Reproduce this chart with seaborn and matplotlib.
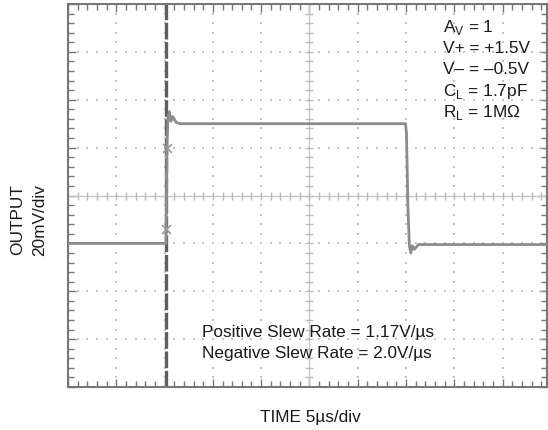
import numpy as np
import matplotlib
matplotlib.use('Agg')
import matplotlib.pyplot as plt
import seaborn as sns
from matplotlib.ticker import MultipleLocator

# scope trace: time in us (5us/div), output in mV (20mV/div), low level = 0
time_us = [0, 10.15, 10.2, 10.25, 10.35, 10.5, 10.65, 10.85, 11.2, 11.6, 34.95, 35.05, 35.2, 35.35, 35.5, 35.65, 35.85, 36.3, 49.6]
out_mv = [0, 0, 18, 40, 53, 55, 51, 53, 50.5, 50, 50, 46, 15, -1, -4, -1, -2.5, -0.5, -0.5]

# cursor marks and trigger position
cursor_t = [10.25, 10.1]
cursor_mv = [40, 6]
trigger_t = 10.1

params = [r'A$_\mathregular{V}$ = 1', 'V+ = +1.5V', 'V– = –0.5V',
          r'C$_\mathregular{L}$ = 1.7pF', r'R$_\mathregular{L}$ = 1MΩ']
slew = ['Positive Slew Rate = 1.17V/µs', 'Negative Slew Rate = 2.0V/µs']

sns.set_style('white')
plt.rcParams['font.family'] = ['Liberation Sans', 'DejaVu Sans']
plt.rcParams['mathtext.fontset'] = 'custom'
plt.rcParams['mathtext.rm'] = 'Liberation Sans'

W, H = 548, 431
fig = plt.figure(figsize=(W / 100, H / 100), dpi=100)
ax = fig.add_axes([68 / W, (H - 388) / H, (547 - 68) / W, (388 - 5) / H])

xmax, ymin, ymax = 49.6, -60, 100

# dotted graticule
gx, gy = [], []
for x in np.arange(5, 50, 5):
    if x == 25:
        continue
    for y in np.arange(ymin, ymax + 0.1, 4):
        gx.append(x); gy.append(y)
for y in np.arange(-40, 100, 20):
    if y == 20:
        continue
    for x in np.arange(0, xmax, 1):
        gx.append(x); gy.append(y)
ax.scatter(gx, gy, s=2.5, marker='s', color='#c4c4c4', linewidths=0, zorder=1)

# center crosshair with sub-division ticks
ax.axhline(20, color='#c8c8c8', lw=1, zorder=1)
ax.axvline(25, color='#c8c8c8', lw=1, zorder=1)
ax.plot(np.arange(0, xmax, 1), np.full(len(np.arange(0, xmax, 1)), 20), ls='none',
        marker='|', ms=6, color='#bbbbbb', mew=1, zorder=1)
ax.plot(np.full(len(np.arange(ymin, ymax + 0.1, 4)), 25), np.arange(ymin, ymax + 0.1, 4), ls='none',
        marker='_', ms=6, color='#bbbbbb', mew=1, zorder=1)

# trigger line
ax.axvline(trigger_t, color='#5e5e5e', lw=2.4, ls=(0, (5, 0.8)), zorder=2)

sns.lineplot(x=time_us, y=out_mv, ax=ax, sort=False, estimator=None,
             color='#8c8c8c', lw=2, zorder=3)
ax.scatter(cursor_t, cursor_mv, marker='x', s=40, color='#999999', linewidths=1.2, zorder=4)

ax.set_xlim(0, xmax)
ax.set_ylim(ymin, ymax)
ax.xaxis.set_major_locator(MultipleLocator(5))
ax.xaxis.set_minor_locator(MultipleLocator(1))
ax.yaxis.set_major_locator(MultipleLocator(20))
ax.yaxis.set_minor_locator(MultipleLocator(4))
ax.tick_params(which='both', direction='in', top=True, right=True, bottom=True, left=True,
               labelbottom=False, labelleft=False, color='#777777')
ax.tick_params(which='major', length=6, width=1)
ax.tick_params(which='minor', length=4, width=1)
for s in ax.spines.values():
    s.set_color('#777777')
    s.set_linewidth(1.5)
ax.set_xlabel('')
ax.set_ylabel('')

fs = 12.4
for i, t in enumerate(params):
    fig.text(443 / W, 1 - (32 + 21.2 * i) / H, t, fontsize=fs, va='baseline', ha='left', color='#1a1a1a')
for i, t in enumerate(slew):
    fig.text(202 / W, 1 - (337 + 21 * i) / H, t, fontsize=fs, va='baseline', ha='left', color='#1a1a1a')

fig.text(310 / W, 1 - 422 / H, 'TIME 5µs/div', fontsize=fs, ha='center', va='baseline', color='#1a1a1a')
fig.text(18 / W, 1 - 220 / H, 'OUTPUT', fontsize=fs, rotation=90, ha='center', va='center', color='#1a1a1a')
fig.text(40 / W, 1 - 220 / H, '20mV/div', fontsize=fs, rotation=90, ha='center', va='center', color='#1a1a1a')

fig.savefig('out.png', dpi=100, facecolor='white')
